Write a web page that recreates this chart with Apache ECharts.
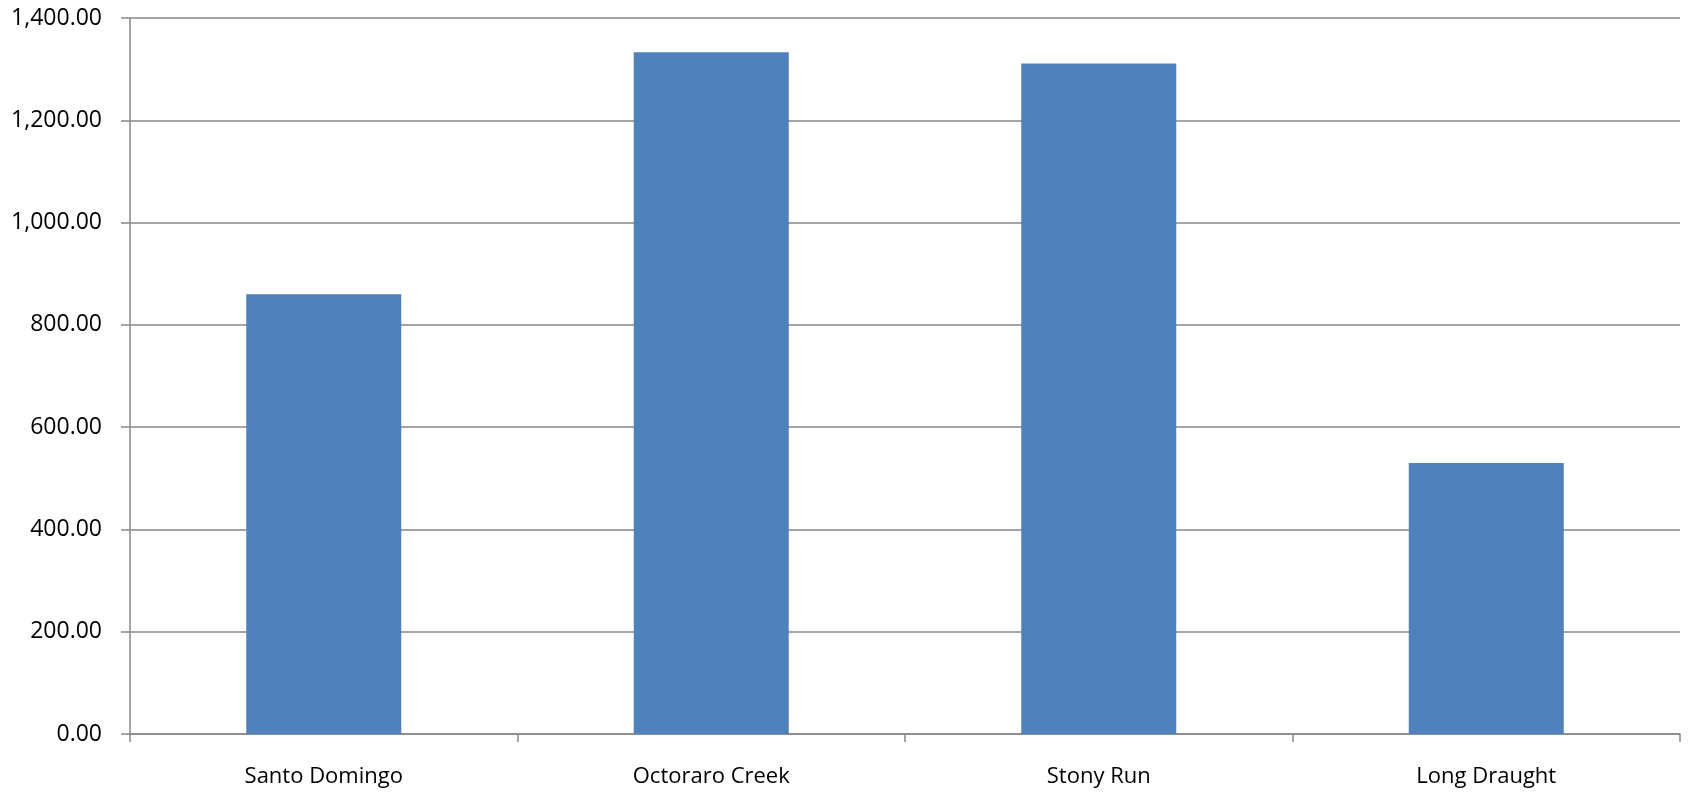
<!DOCTYPE html>
<html>
<head>
<meta charset="utf-8">
<script src="https://cdn.jsdelivr.net/npm/echarts@6/dist/echarts.min.js"></script>
<style>
html,body{margin:0;padding:0;background:#fff;}
#chart{width:1688px;height:793px;}
</style>
</head>
<body>
<div id="chart"></div>
<script>
const categories = ["Santo Domingo", "Octoraro Creek", "Stony Run", "Long Draught"];
const values = [860, 1333, 1311, 530];
const yTicks = { min: 0, max: 1400, interval: 200 };

const chart = echarts.init(document.getElementById('chart'));
const fontFamily = "'Open Sans', 'Noto Sans', sans-serif";
chart.setOption({
  animation: false,
  grid: { left: 130, right: 8, top: 18, bottom: 59, containLabel: false },
  xAxis: {
    type: 'category',
    data: categories,
    axisLine: { lineStyle: { color: '#878787', width: 1.5 } },
    axisTick: { show: true, length: 8, lineStyle: { color: '#878787', width: 1.5 } },
    axisLabel: { color: '#000', fontSize: 22, fontFamily: fontFamily, margin: 32 }
  },
  yAxis: {
    type: 'value',
    min: yTicks.min, max: yTicks.max, interval: yTicks.interval,
    axisLine: { show: true, lineStyle: { color: '#878787', width: 1.5 } },
    axisTick: { show: true, length: 9, lineStyle: { color: '#878787', width: 1.5 } },
    splitLine: { lineStyle: { color: '#878787', width: 1.5 } },
    axisLabel: {
      color: '#000', fontSize: 23, fontFamily: fontFamily, margin: 28,
      formatter: v => v.toLocaleString('en-US', { minimumFractionDigits: 2, maximumFractionDigits: 2 })
    }
  },
  series: [{
    type: 'bar',
    data: values,
    barWidth: '40%',
    itemStyle: { color: '#4f81bd' }
  }]
});
</script>
</body>
</html>
